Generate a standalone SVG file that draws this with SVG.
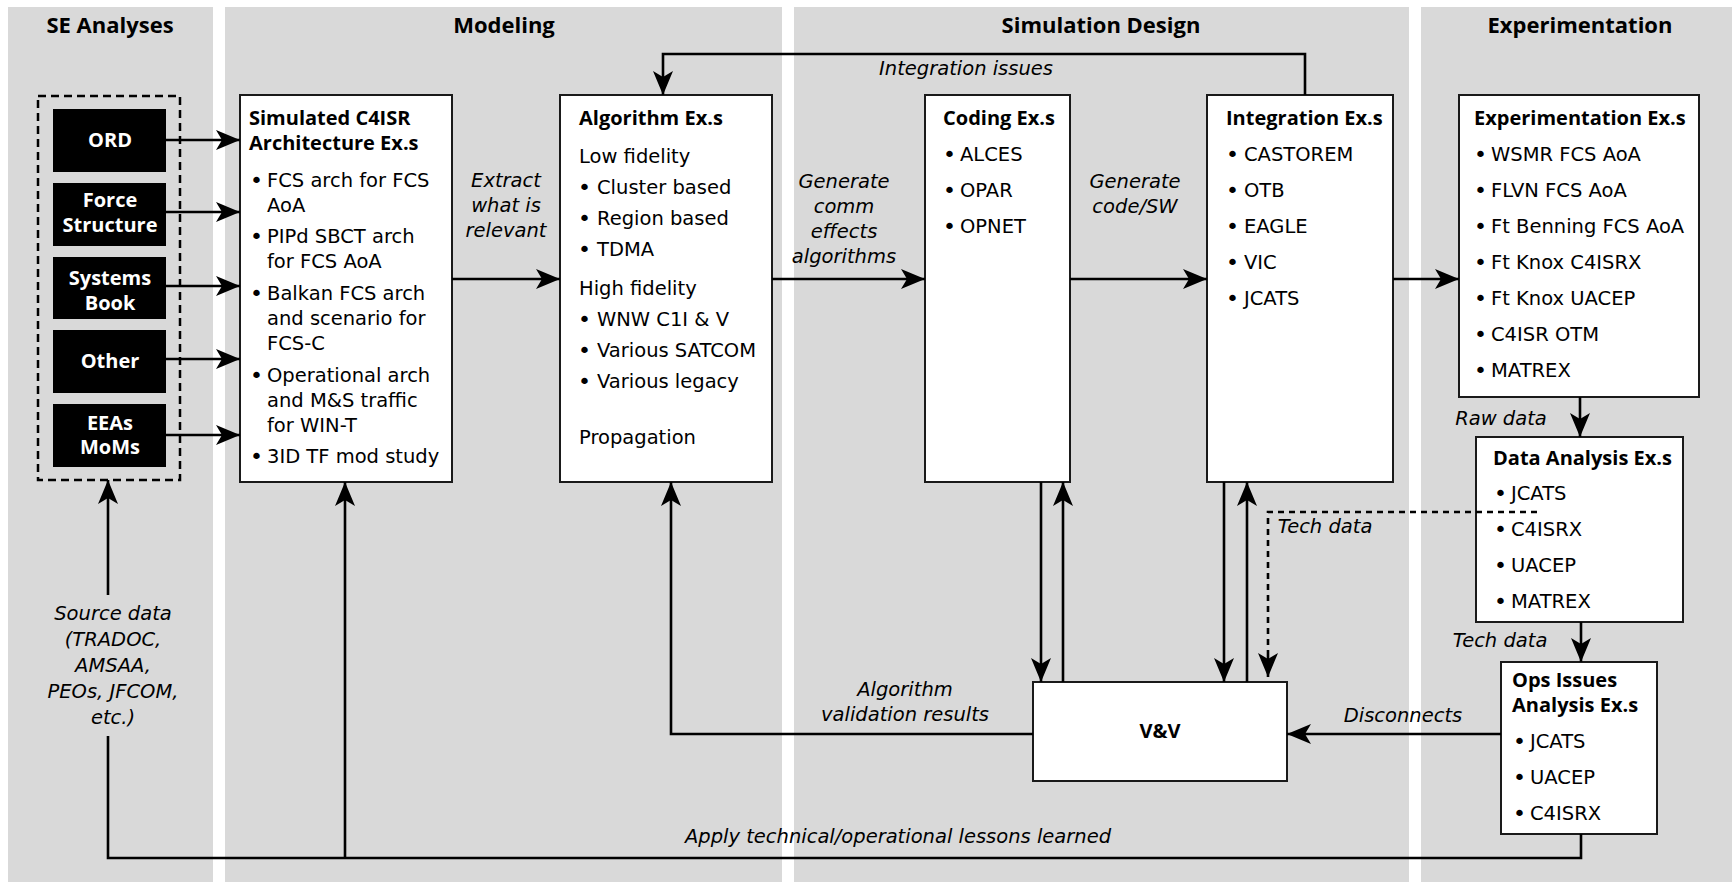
<svg xmlns="http://www.w3.org/2000/svg" width="1732" height="882" viewBox="0 0 1732 882">
<defs>
<marker id="ah" markerUnits="userSpaceOnUse" markerWidth="26" markerHeight="22" refX="24" refY="10" orient="auto" viewBox="0 0 26 22">
<path d="M0,0 L24,10 L0,20 L6,10 z" fill="#000"/>
</marker>
<style>
.panel{fill:#d9d9d9}
.hdr{font-family:"Open Sans","Noto Sans",sans-serif;font-weight:bold;font-size:22px;fill:#000;text-anchor:middle}
.box{fill:#fff;stroke:#1a1a1a;stroke-width:2}
.blk{fill:#000}
.wt{font-family:"Open Sans","Noto Sans",sans-serif;font-weight:bold;font-size:20px;fill:#fff;text-anchor:middle}
.tt{font-family:"Open Sans","Noto Sans",sans-serif;font-weight:bold;font-size:20px;fill:#000}
.tx{font-family:"DejaVu Sans",sans-serif;font-size:19.5px;fill:#000}
.bu{font-size:22px}
.lb{font-family:"DejaVu Sans",sans-serif;font-style:italic;font-size:19.5px;fill:#000;text-anchor:middle}
.ln{fill:none;stroke:#000;stroke-width:2.6}
.ar{fill:none;stroke:#000;stroke-width:2.6;marker-end:url(#ah)}
.dt{fill:none;stroke:#000;stroke-width:2.6;stroke-dasharray:6 5}
</style>
</defs>
<rect width="1732" height="882" fill="#fff"/>
<g id="panels">
<rect class="panel" x="8" y="7" width="205" height="875"/>
<rect class="panel" x="225" y="7" width="557" height="875"/>
<rect class="panel" x="794" y="7" width="615" height="875"/>
<rect class="panel" x="1421" y="7" width="311" height="875"/>
<text class="hdr" x="110" y="33">SE Analyses</text>
<text class="hdr" x="504" y="33">Modeling</text>
<text class="hdr" x="1101" y="33">Simulation Design</text>
<text class="hdr" x="1580" y="33">Experimentation</text>
</g>
<g id="se-sources">
<rect x="38" y="96" width="142" height="384" fill="none" stroke="#000" stroke-width="2.5" stroke-dasharray="8 5"/>
</g>
<g id="ord"><rect class="blk" x="53" y="109" width="113" height="63"/><text class="wt" x="110" y="147">ORD</text></g>
<g id="force"><rect class="blk" x="53" y="183" width="113" height="63"/><text class="wt"><tspan x="110" y="207">Force</tspan><tspan x="110" y="232">Structure</tspan></text></g>
<g id="systems"><rect class="blk" x="53" y="257" width="113" height="62"/><text class="wt"><tspan x="110" y="285">Systems</tspan><tspan x="110" y="310">Book</tspan></text></g>
<g id="other"><rect class="blk" x="53" y="330" width="113" height="63"/><text class="wt" x="110" y="368">Other</text></g>
<g id="eeas"><rect class="blk" x="53" y="404" width="113" height="63"/><text class="wt"><tspan x="110" y="430">EEAs</tspan><tspan x="110" y="454">MoMs</tspan></text></g>
<g id="simulated">
<rect class="box" x="240" y="95" width="212" height="387"/>
<text class="tt"><tspan x="249" y="125">Simulated C4ISR</tspan><tspan x="249" y="150">Architecture Ex.s</tspan></text>
<text class="tx"><tspan class="bu" x="250" y="188">•</tspan><tspan x="267" y="187">FCS arch for FCS</tspan><tspan x="267" y="212">AoA</tspan>
<tspan class="bu" x="250" y="244">•</tspan><tspan x="267" y="243">PIPd SBCT arch</tspan><tspan x="267" y="268">for FCS AoA</tspan>
<tspan class="bu" x="250" y="301">•</tspan><tspan x="267" y="300">Balkan FCS arch</tspan><tspan x="267" y="325">and scenario for</tspan><tspan x="267" y="350">FCS-C</tspan>
<tspan class="bu" x="250" y="383">•</tspan><tspan x="267" y="382">Operational arch</tspan><tspan x="267" y="407">and M&amp;S traffic</tspan><tspan x="267" y="432">for WIN-T</tspan>
<tspan class="bu" x="250" y="464">•</tspan><tspan x="267" y="463">3ID TF mod study</tspan></text>
</g>
<g id="algorithm">
<rect class="box" x="560" y="95" width="212" height="387"/>
<text class="tt" x="579" y="125">Algorithm Ex.s</text>
<text class="tx"><tspan x="579" y="163">Low fidelity</tspan>
<tspan class="bu" x="578" y="195">•</tspan><tspan x="597" y="194">Cluster based</tspan>
<tspan class="bu" x="578" y="226">•</tspan><tspan x="597" y="225">Region based</tspan>
<tspan class="bu" x="578" y="257">•</tspan><tspan x="597" y="256">TDMA</tspan>
<tspan x="579" y="295">High fidelity</tspan>
<tspan class="bu" x="578" y="327">•</tspan><tspan x="597" y="326">WNW C1I &amp; V</tspan>
<tspan class="bu" x="578" y="358">•</tspan><tspan x="597" y="357">Various SATCOM</tspan>
<tspan class="bu" x="578" y="389">•</tspan><tspan x="597" y="388">Various legacy</tspan>
<tspan x="579" y="444">Propagation</tspan></text>
</g>
<g id="coding">
<rect class="box" x="925" y="95" width="145" height="387"/>
<text class="tt" x="943" y="125">Coding Ex.s</text>
<text class="tx"><tspan class="bu" x="943" y="162">•</tspan><tspan x="960" y="161">ALCES</tspan>
<tspan class="bu" x="943" y="198">•</tspan><tspan x="960" y="197">OPAR</tspan>
<tspan class="bu" x="943" y="234">•</tspan><tspan x="960" y="233">OPNET</tspan></text>
</g>
<g id="integration">
<rect class="box" x="1207" y="95" width="186" height="387"/>
<text class="tt" x="1226" y="125">Integration Ex.s</text>
<text class="tx"><tspan class="bu" x="1226" y="162">•</tspan><tspan x="1244" y="161">CASTOREM</tspan>
<tspan class="bu" x="1226" y="198">•</tspan><tspan x="1244" y="197">OTB</tspan>
<tspan class="bu" x="1226" y="234">•</tspan><tspan x="1244" y="233">EAGLE</tspan>
<tspan class="bu" x="1226" y="270">•</tspan><tspan x="1244" y="269">VIC</tspan>
<tspan class="bu" x="1226" y="306">•</tspan><tspan x="1244" y="305">JCATS</tspan></text>
</g>
<g id="experimentation">
<rect class="box" x="1459" y="95" width="240" height="302"/>
<text class="tt" x="1474" y="125">Experimentation Ex.s</text>
<text class="tx"><tspan class="bu" x="1474" y="162">•</tspan><tspan x="1491" y="161">WSMR FCS AoA</tspan>
<tspan class="bu" x="1474" y="198">•</tspan><tspan x="1491" y="197">FLVN FCS AoA</tspan>
<tspan class="bu" x="1474" y="234">•</tspan><tspan x="1491" y="233">Ft Benning FCS AoA</tspan>
<tspan class="bu" x="1474" y="270">•</tspan><tspan x="1491" y="269">Ft Knox C4ISRX</tspan>
<tspan class="bu" x="1474" y="306">•</tspan><tspan x="1491" y="305">Ft Knox UACEP</tspan>
<tspan class="bu" x="1474" y="342">•</tspan><tspan x="1491" y="341">C4ISR OTM</tspan>
<tspan class="bu" x="1474" y="378">•</tspan><tspan x="1491" y="377">MATREX</tspan></text>
</g>
<g id="data-analysis">
<rect class="box" x="1476" y="437" width="207" height="185"/>
<text class="tt" x="1493" y="465">Data Analysis Ex.s</text>
<text class="tx"><tspan class="bu" x="1494" y="501">•</tspan><tspan x="1511" y="500">JCATS</tspan>
<tspan class="bu" x="1494" y="537">•</tspan><tspan x="1511" y="536">C4ISRX</tspan>
<tspan class="bu" x="1494" y="573">•</tspan><tspan x="1511" y="572">UACEP</tspan>
<tspan class="bu" x="1494" y="609">•</tspan><tspan x="1511" y="608">MATREX</tspan></text>
</g>
<g id="ops-issues">
<rect class="box" x="1501" y="662" width="156" height="172"/>
<text class="tt"><tspan x="1512" y="687">Ops Issues</tspan><tspan x="1512" y="712">Analysis Ex.s</tspan></text>
<text class="tx"><tspan class="bu" x="1513" y="749">•</tspan><tspan x="1530" y="748">JCATS</tspan>
<tspan class="bu" x="1513" y="785">•</tspan><tspan x="1530" y="784">UACEP</tspan>
<tspan class="bu" x="1513" y="821">•</tspan><tspan x="1530" y="820">C4ISRX</tspan></text>
</g>
<g id="vv">
<rect class="box" x="1033" y="682" width="254" height="99"/>
<text class="tt" x="1160" y="738" text-anchor="middle">V&amp;V</text>
</g>
<g id="connectors">
<line class="ar" x1="166" y1="140" x2="240" y2="140"/>
<line class="ar" x1="166" y1="212" x2="240" y2="212"/>
<line class="ar" x1="166" y1="286" x2="240" y2="286"/>
<line class="ar" x1="166" y1="359" x2="240" y2="359"/>
<line class="ar" x1="166" y1="435" x2="240" y2="435"/>
<line class="ar" x1="452" y1="279" x2="560" y2="279"/>
<line class="ar" x1="772" y1="279" x2="925" y2="279"/>
<line class="ar" x1="1070" y1="279" x2="1207" y2="279"/>
<line class="ar" x1="1393" y1="279" x2="1459" y2="279"/>
<polyline class="ar" points="1305,95 1305,54 663,54 663,95"/>
<line class="ar" x1="1580" y1="397" x2="1580" y2="437"/>
<line class="ar" x1="1581" y1="622" x2="1581" y2="662"/>
<line class="ar" x1="1501" y1="734" x2="1287" y2="734"/>
<polyline class="ar" points="1033,734 671,734 671,482"/>
<line class="ar" x1="1041" y1="482" x2="1041" y2="682"/>
<line class="ar" x1="1063" y1="682" x2="1063" y2="482"/>
<line class="ar" x1="1224" y1="482" x2="1224" y2="682"/>
<line class="ar" x1="1247" y1="682" x2="1247" y2="482"/>
<polyline class="dt" points="1537,512 1268,512 1268,670"/>
<line class="ar" x1="1268" y1="656" x2="1268" y2="677"/>
<polyline class="ln" points="1581,834 1581,858 108,858 108,736"/>
<line class="ar" x1="108" y1="595" x2="108" y2="480"/>
<line class="ar" x1="345" y1="858" x2="345" y2="482"/>
<text class="lb"><tspan x="506" y="187">Extract</tspan><tspan x="506" y="212">what is</tspan><tspan x="506" y="237">relevant</tspan></text>
<text class="lb"><tspan x="844" y="188">Generate</tspan><tspan x="844" y="213">comm</tspan><tspan x="844" y="238">effects</tspan><tspan x="844" y="263">algorithms</tspan></text>
<text class="lb"><tspan x="1135" y="188">Generate</tspan><tspan x="1135" y="213">code/SW</tspan></text>
<text class="lb" x="966" y="75">Integration issues</text>
<text class="lb" x="1501" y="425">Raw data</text>
<text class="lb" x="1500" y="647">Tech data</text>
<text class="lb" x="1325" y="533">Tech data</text>
<text class="lb" x="1403" y="722">Disconnects</text>
<text class="lb"><tspan x="905" y="696">Algorithm</tspan><tspan x="905" y="721">validation results</tspan></text>
<text class="lb"><tspan x="113" y="620">Source data</tspan><tspan x="113" y="646">(TRADOC,</tspan><tspan x="113" y="672">AMSAA,</tspan><tspan x="113" y="698">PEOs, JFCOM,</tspan><tspan x="113" y="724">etc.)</tspan></text>
<text class="lb" x="898" y="843">Apply technical/operational lessons learned</text>
</g>
</svg>
